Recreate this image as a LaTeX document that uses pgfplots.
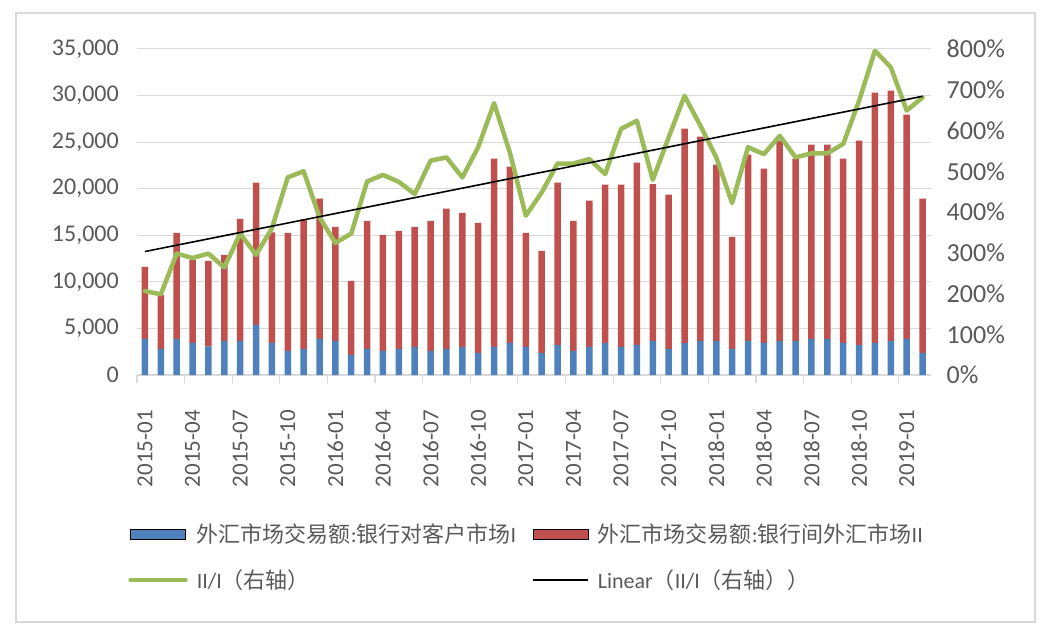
\documentclass[border=0pt]{standalone}
\usepackage{fontspec}
\setmainfont{Carlito}
\newfontfamily\cjk{Noto Sans CJK SC}
\usepackage{pgfplots}
\usepackage{pgfplotstable}
\pgfplotsset{compat=1.18}
\definecolor{cblue}{HTML}{4F81BD}
\definecolor{cred}{HTML}{C0504D}
\definecolor{cgreen}{HTML}{9BBB59}
\definecolor{cgrid}{HTML}{D9D9D9}
\definecolor{ctext}{HTML}{595959}

% x: month index 0 = 2015-01 ... 49 = 2019-02
\pgfplotstableread{
x I II
0 3870 7742
1 2795 5805
2 3870 11398
3 3440 8890
4 3082 9175
5 3656 9244
6 3656 13117
7 5376 15268
8 3440 11860
9 2580 12688
10 2795 13905
11 3870 15054
12 3656 12257
13 2150 7957
14 2795 13763
15 2580 12473
16 2795 12688
17 3010 12903
18 2580 13978
19 2795 15055
20 3010 14408
21 2365 13978
22 3010 20214
23 3440 18924
24 3010 12258
25 2365 10967
26 3225 17419
27 2580 13978
28 3010 15698
29 3440 16988
30 3010 17418
31 3225 19569
32 3656 16844
33 2795 16559
34 3440 23010
35 3656 21934
36 3656 18924
37 2795 12043
38 3656 19998
39 3440 18710
40 3656 21504
41 3656 19568
42 3870 20860
43 3870 20860
44 3440 19784
45 3225 21935
46 3440 26880
47 3656 26880
48 3870 24085
49 2365 16559
}\bars

\pgfplotstableread{
x r
0 206
1 198
2 298
3 287
4 298
5 264
6 347
7 295
8 360
9 485
10 500
11 387
12 324
13 347
14 475
15 491
16 474
17 444
18 526
19 534
20 485
21 559
22 667
23 545
24 391
25 448
26 519
27 519
28 530
29 493
30 604
31 624
32 479
33 583
34 685
35 612
36 534
37 422
38 559
39 542
40 587
41 534
42 544
43 544
44 567
45 673
46 796
47 755
48 649
49 681
}\ratio

\pgfplotstableread{
x r
0 303
49 684
}\trend

\pgfplotsset{
  barleg/.style={legend image code/.code={\fill[##1] (0pt,-5pt) rectangle (55pt,5pt); \path (0pt,0pt) (61pt,0pt);}},
  lineleg/.style={legend image code/.code={\draw[##1] (0pt,0pt) -- (55pt,0pt); \path (0pt,0pt) (61pt,0pt);}},
}

\begin{document}
\begin{tikzpicture}[x=1pt,y=1pt]
\useasboundingbox (0,0) rectangle (1054,638);
\draw[cgrid, line width=1.2pt] (16,16) rectangle (1035,625);

\begin{axis}[
  at={(137pt,263pt)}, anchor=south west,
  scale only axis, width=793.5pt, height=326pt,
  xmin=-0.5, xmax=49.5, ymin=0, ymax=35000,
  scaled y ticks=false,
  ybar stacked, bar width=6.5pt,
  axis x line*=bottom, axis y line*=left,
  y axis line style={draw=none},
  x axis line style={cgrid, line width=1.2pt},
  ymajorgrids, grid style={cgrid, line width=1pt},
  xtick={0,3,...,48},
  xticklabels={2015-01,2015-04,2015-07,2015-10,2016-01,2016-04,2016-07,2016-10,2017-01,2017-04,2017-07,2017-10,2018-01,2018-04,2018-07,2018-10,2019-01},
  minor xtick={-0.5,2.5,...,47.5},
  major tick length=0pt, minor tick length=8pt, tick align=outside,
  minor tick style={cgrid, line width=1.2pt},
  xticklabel style={rotate=90, anchor=east, font=\fontsize{23}{25}\selectfont, text=ctext, xshift=-35pt, inner sep=0pt},
  ytick={0,5000,...,35000},
  yticklabels={0,{5,000},{10,000},{15,000},{20,000},{25,000},{30,000},{35,000}},
  yticklabel style={font=\fontsize{24}{26}\selectfont, text=ctext, anchor=east, xshift=-18pt, inner sep=0pt},
]
\addplot[fill=cblue, draw=none] table[x=x, y=I] {\bars};
\addplot[fill=cred, draw=none] table[x=x, y=II] {\bars};
\end{axis}

\begin{axis}[
  at={(137pt,263pt)}, anchor=south west,
  scale only axis, width=793.5pt, height=326pt,
  xmin=-0.5, xmax=49.5, ymin=0, ymax=800,
  axis x line=none, axis y line*=right,
  y axis line style={draw=none},
  major tick length=0pt,
  ytick={0,100,...,800},
  yticklabels={0\%,100\%,200\%,300\%,400\%,500\%,600\%,700\%,800\%},
  yticklabel style={font=\fontsize{26}{28}\selectfont, text=ctext, anchor=west, xshift=16pt, inner sep=0pt},
  legend columns=2,
  legend style={at={(-0.015,-0.44)}, anchor=north west, draw=none, fill=none,
    font=\fontsize{22}{25}\selectfont, text=ctext, row sep=20pt,
    /tikz/every even column/.append style={column sep=13pt},
    nodes={inner sep=3pt}},
  legend cell align=left,
]
\addlegendimage{barleg, fill=cblue}
\addlegendentry{{\cjk 外汇市场交易额}:{\cjk 银行对客户市场}I}
\addlegendimage{barleg, fill=cred}
\addlegendentry{{\cjk 外汇市场交易额}:{\cjk 银行间外汇市场}II}
\addplot[cgreen, line width=4.5pt, line join=round, lineleg, line cap=round] table[x=x, y=r] {\ratio};
\addlegendentry{II/I{\cjk （右轴）}}
\addplot[black, line width=1.6pt, lineleg] table[x=x, y=r] {\trend};
\addlegendentry{Linear{\cjk （}II/I{\cjk （右轴））}}
\end{axis}
\end{tikzpicture}
\end{document}
